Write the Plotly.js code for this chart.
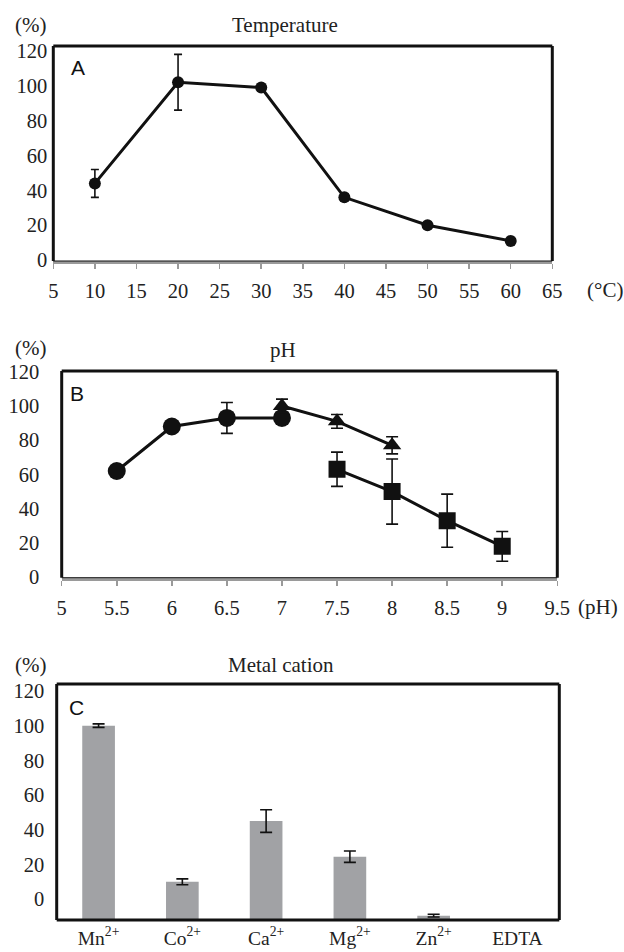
<!DOCTYPE html>
<html><head><meta charset="utf-8">
<script src="https://cdn.plot.ly/plotly-3.0.1.min.js"></script>
<style>html,body{margin:0;padding:0;background:#fff}</style>
</head><body><div id="chart" style="width:624px;height:952px"></div>
<script>
// Panel A: temperature
const tempX = [10, 20, 30, 40, 50, 60];
const tempY = [44, 102, 99, 36, 20, 11];
const tempErr = [8, 16, 1, 2, 1, 1];
// Panel B: pH (three buffer series)
const phCircleX = [5.5, 6, 6.5, 7];
const phCircleY = [62, 88, 93, 93];
const phCircleErr = [2, 1, 9, 2];
const phTriX = [7, 7.5, 8];
const phTriY = [100, 91, 77];
const phTriErr = [4, 4, 5];
const phSqX = [7.5, 8, 8.5, 9];
const phSqY = [63, 50, 33, 18];
const phSqErr = [10, 19, 15.5, 8.7];
// Panel C: metal cations
const metals = ['Mn<sup>2+</sup>', 'Co<sup>2+</sup>', 'Ca<sup>2+</sup>', 'Mg<sup>2+</sup>', 'Zn<sup>2+</sup>', 'EDTA'];
const metalY = [100, 10, 45, 24.5, -9.5, null];
const metalErr = [1, 1.7, 6.5, 3.3, 0.8, 0];
const metalBase = -12;
const yTicks = [0, 20, 40, 60, 80, 100, 120];
const tempTicks = [5, 10, 15, 20, 25, 30, 35, 40, 45, 50, 55, 60, 65];
const phTicks = [5, 5.5, 6, 6.5, 7, 7.5, 8, 8.5, 9, 9.5];

const serif = 'Liberation Serif';
const tf = (s) => ({family: serif, size: s || 20.5, color: '#222'});
const black = '#111';

function errY(arr, w) {
  return {type: 'data', array: arr, visible: true, color: black, thickness: 1.6, width: w};
}

const traces = [
  {x: tempX, y: tempY, xaxis: 'x', yaxis: 'y', mode: 'lines+markers', type: 'scatter',
   line: {color: black, width: 3}, marker: {symbol: 'circle', size: 12, color: black},
   error_y: errY(tempErr, 4)},
  {x: phCircleX, y: phCircleY, xaxis: 'x2', yaxis: 'y2', mode: 'lines+markers', type: 'scatter',
   line: {color: black, width: 3}, marker: {symbol: 'circle', size: 18, color: black},
   error_y: errY(phCircleErr, 6)},
  {x: phTriX, y: phTriY, xaxis: 'x2', yaxis: 'y2', mode: 'lines+markers', type: 'scatter',
   line: {color: black, width: 3}, marker: {symbol: 'triangle-up', size: 16, color: black},
   error_y: errY(phTriErr, 6)},
  {x: phSqX, y: phSqY, xaxis: 'x2', yaxis: 'y2', mode: 'lines+markers', type: 'scatter',
   line: {color: black, width: 3}, marker: {symbol: 'square', size: 17, color: black},
   error_y: errY(phSqErr, 6)},
  {x: metals, y: metalY.map(v => v == null ? null : v - metalBase), base: metalBase,
   xaxis: 'x3', yaxis: 'y3', type: 'bar', width: 0.39,
   marker: {color: '#a1a2a5', line: {width: 0}},
   error_y: errY(metalErr, 6)}
];

function yax(domain, range, standoff) {
  return {domain: domain, range: range, tickvals: yTicks, showgrid: false, zeroline: false,
          showline: false, ticks: '', tickfont: tf(), ticklabelstandoff: standoff, fixedrange: true};
}
function xax(domain, range, tv, anchor, standoff) {
  return {domain: domain, range: range, tickvals: tv, anchor: anchor, showgrid: false, zeroline: false,
          showline: true, linecolor: '#9a9a9a', linewidth: 3, ticks: 'outside', ticklen: 5,
          tickwidth: 1.5, tickcolor: '#9a9a9a', tickfont: tf(), ticklabelstandoff: standoff, fixedrange: true};
}

function frame(xr, yr, withBottom) {
  const s = [
    {type: 'line', xref: xr + ' domain', yref: yr + ' domain', x0: 0, x1: 0, y0: 0, y1: 1, line: {color: black, width: 3}},
    {type: 'line', xref: xr + ' domain', yref: yr + ' domain', x0: 0, x1: 1, y0: 1, y1: 1, line: {color: black, width: 3}},
    {type: 'line', xref: xr + ' domain', yref: yr + ' domain', x0: 1, x1: 1, y0: 0, y1: 1, line: {color: black, width: 3}}
  ];
  s.push({type: 'line', xref: xr + ' domain', yref: yr + ' domain', x0: 0, x1: 1, y0: 0, y1: 0,
          line: {color: black, width: withBottom ? 3 : 1}});
  return s;
}

const H = 952, W = 624;
const px = v => v / W, py = v => 1 - v / H;

function ann(text, x, y, font) {
  return {text: text, xref: 'paper', yref: 'paper', x: px(x), y: py(y), xanchor: 'center', yanchor: 'middle',
          showarrow: false, font: font};
}
const titleFont = () => ({family: serif, size: 21, color: '#222'});
const letterFont = () => ({family: 'Liberation Sans', size: 21, color: '#111'});

const layout = {
  width: W, height: H, margin: {l: 0, r: 0, t: 0, b: 0},
  font: {family: serif, size: 20, color: '#222'},
  paper_bgcolor: '#fff', plot_bgcolor: '#fff', showlegend: false,
  xaxis: xax([px(53.3), px(552.3)], [5, 65], tempTicks, 'y', 4),
  yaxis: yax([py(261), py(46)], [-0.5, 122.8], 5),
  xaxis2: xax([px(61.7), px(557.3)], [5, 9.5], phTicks, 'y2', 5),
  yaxis2: yax([py(577.7), py(371)], [-0.3, 120.4], 13),
  xaxis3: {domain: [px(56.7), px(559.3)], range: [-0.5, 5.5], type: 'category', anchor: 'y3',
           showgrid: false, zeroline: false, showline: false, ticks: '', tickfont: tf(19.5),
           ticklabelstandoff: 4, fixedrange: true},
  yaxis3: yax([py(920), py(684)], [-12, 124], 8),
  shapes: [].concat(frame('x', 'y', false), frame('x2', 'y2', false), frame('x3', 'y3', true)),
  annotations: [
    ann('(%)', 30, 25, titleFont()),
    ann('Temperature', 285, 25, titleFont()),
    ann('A', 78, 68, letterFont()),
    ann('(°C)', 605, 290, titleFont()),
    ann('(%)', 30, 348, titleFont()),
    ann('pH', 283, 350, titleFont()),
    ann('B', 77, 393, letterFont()),
    ann('(pH)', 598, 607, titleFont()),
    ann('(%)', 30, 665, titleFont()),
    ann('Metal cation', 281, 665, titleFont()),
    ann('C', 76, 707, letterFont())
  ]
};

Plotly.newPlot('chart', traces, layout, {displayModeBar: false, staticPlot: true});
</script>
</body></html>
